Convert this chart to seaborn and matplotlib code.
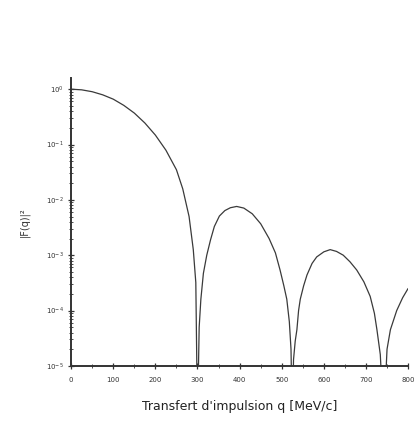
import numpy as np
import pandas as pd
import matplotlib
matplotlib.use("Agg")
import matplotlib.pyplot as plt
import matplotlib.ticker as mticker
import seaborn as sns

# momentum transfer q (MeV/c)
q = [0, 25, 50, 75, 100, 125, 150, 175, 200, 225, 250, 265, 280, 290, 296,
     300, 304, 308, 314, 322, 331, 340, 352, 365, 378, 393, 410, 430, 450,
     470, 485, 496, 505, 512, 518, 522, 525, 528, 532, 536, 540, 544, 552,
     560, 572, 583, 600, 615, 630, 646, 662, 678, 695, 710, 720, 726, 734,
     742, 750, 758, 773, 787, 800]

# |F(q)|^2, read on the log axis (dips go below the axis floor)
f2 = [1.0, 0.973, 0.90, 0.79, 0.66, 0.51, 0.37, 0.245, 0.148, 0.079, 0.035,
      0.0158, 5.0e-3, 1.26e-3, 3.2e-4,
      1e-6, 5e-5, 1.6e-4, 4.7e-4, 1.0e-3, 1.9e-3, 3.3e-3, 5.1e-3, 6.4e-3,
      7.2e-3, 7.6e-3, 7.1e-3, 5.6e-3, 3.7e-3,
      2.0e-3, 1.1e-3, 5.4e-4, 2.8e-4, 1.6e-4, 6.3e-5, 2.0e-5, 1e-6, 1.3e-5,
      2.8e-5, 4.5e-5, 1.0e-4, 1.6e-4, 2.8e-4,
      4.4e-4, 7.1e-4, 9.3e-4, 1.15e-3, 1.26e-3, 1.17e-3, 1.0e-3, 7.6e-4,
      5.4e-4, 3.3e-4, 1.8e-4, 8.9e-5, 4.5e-5, 1.6e-5,
      1e-6, 2.0e-5, 4.5e-5, 1.0e-4, 1.7e-4, 2.5e-4]

x_ticks = [0, 100, 200, 300, 400, 500, 600, 700, 800]

df = pd.DataFrame({"q": q, "F2": f2})

sns.set_theme(style="ticks")
plt.rcParams["font.family"] = ["DejaVu Sans"]

fig = plt.figure(figsize=(4.16, 4.21), dpi=100)
ax = fig.add_axes([0.171, 0.131, 0.81, 0.684])

sns.lineplot(data=df, x="q", y="F2", ax=ax, color="#3a3a3a", linewidth=0.9)

ax.set_yscale("log")
ax.set_ylim(1e-5, 1.6)
ax.set_xlim(0, 800)
ax.set_xticks(x_ticks)
ax.set_xticklabels([str(t) for t in x_ticks])
ax.xaxis.set_minor_locator(mticker.MultipleLocator(50))
ax.yaxis.set_major_locator(mticker.LogLocator(base=10, numticks=10))
ax.yaxis.set_minor_locator(mticker.LogLocator(base=10, subs=np.arange(2, 10), numticks=20))
ax.yaxis.set_minor_formatter(mticker.NullFormatter())

ax.tick_params(axis="both", which="major", labelsize=5, direction="inout",
               length=4, width=0.9, colors="#333333")
ax.tick_params(axis="x", which="major", pad=6)
ax.tick_params(axis="y", which="major", pad=3)
ax.tick_params(axis="both", which="minor", direction="inout", length=2.5,
               width=0.6, colors="#333333")

for side in ["top", "right"]:
    ax.spines[side].set_visible(False)
for side in ["left", "bottom"]:
    ax.spines[side].set_linewidth(1.4)
    ax.spines[side].set_color("#333333")

ax.set_xlabel("Transfert d'impulsion q [MeV/c]", fontsize=9, color="#222222", labelpad=12)
ax.set_ylabel("|F(q)|²", fontsize=7, color="#333333", labelpad=12)

fig.savefig("out.png", dpi=100)
